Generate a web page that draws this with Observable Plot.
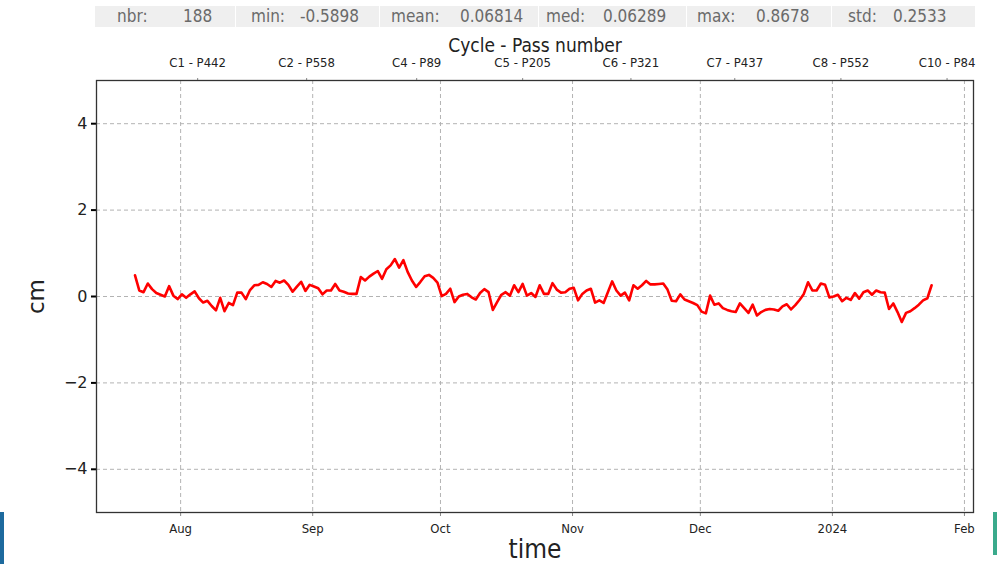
<!DOCTYPE html>
<html><head><meta charset="utf-8">
<script src="https://cdn.jsdelivr.net/npm/d3@7"></script>
<script src="https://cdn.jsdelivr.net/npm/@observablehq/plot@0.6"></script>
<style>
body{margin:0;background:#fff;width:997px;height:564px;overflow:hidden;position:relative;font-family:"DejaVu Sans",sans-serif;}
#stats{position:absolute;left:0;top:0;width:997px;height:30px;z-index:2;}
.cell{position:absolute;top:6px;height:21px;background:#efefef;}
.st{position:absolute;top:5px;font-size:17px;line-height:22px;color:#6a6a6a;font-family:"DejaVu Sans Condensed","DejaVu Sans",sans-serif;font-stretch:condensed;white-space:nowrap;}
#chart{position:absolute;left:0;top:0;z-index:1;}
.edge{position:absolute;z-index:3;}
</style>
</head><body>
<div id="chart"></div>
<div id="stats"></div>
<div class="edge" style="left:0;top:512px;width:4px;height:52px;background:#1d6a9e"></div>
<div class="edge" style="left:993px;top:512px;width:4px;height:43px;background:#3aaa8c"></div>
<script>
// ---- data ----
const startDate = "2023-07-21T07:00:00Z";
const values = [
 0.49, 0.14, 0.10, 0.30, 0.17, 0.08, 0.04, 0.00, 0.24, 0.02,
-0.06, 0.05,-0.03, 0.05, 0.12,-0.04,-0.14,-0.10,-0.22,-0.32,
-0.03,-0.34,-0.15,-0.20, 0.09, 0.09,-0.06, 0.15, 0.26, 0.27,
 0.33, 0.29, 0.22, 0.36, 0.32, 0.37, 0.27, 0.11, 0.23, 0.34,
 0.13, 0.27, 0.23, 0.19, 0.05, 0.14, 0.14, 0.29, 0.14, 0.11,
 0.07, 0.06, 0.06, 0.45, 0.37, 0.46, 0.53, 0.59, 0.41, 0.63,
 0.72, 0.8678, 0.67, 0.84, 0.57, 0.37, 0.22, 0.34, 0.47, 0.50,
 0.43, 0.32, 0.01, 0.06, 0.18,-0.13, 0.00, 0.04, 0.06,-0.02,
-0.07, 0.08, 0.17, 0.10,-0.31,-0.13, 0.04, 0.10, 0.02, 0.26,
 0.10, 0.29, 0.02, 0.08,-0.01, 0.26, 0.06, 0.06, 0.31, 0.16,
 0.09, 0.10, 0.18, 0.20,-0.09, 0.06, 0.14, 0.18,-0.14,-0.09,
-0.15, 0.10, 0.35, 0.14, 0.02, 0.09,-0.09, 0.26, 0.18, 0.26,
 0.36, 0.28, 0.28, 0.29, 0.30, 0.16,-0.10,-0.11, 0.05,-0.07,
-0.11,-0.15,-0.20,-0.35,-0.39, 0.02,-0.19,-0.16,-0.27,-0.31,
-0.34,-0.36,-0.16,-0.27,-0.38,-0.19,-0.44,-0.36,-0.31,-0.29,
-0.30,-0.33,-0.23,-0.18,-0.30,-0.20,-0.08, 0.06, 0.33, 0.14,
 0.14, 0.30, 0.27,-0.02, 0.00, 0.04,-0.11,-0.03,-0.08, 0.08,
-0.05, 0.10, 0.14, 0.04, 0.14, 0.10, 0.09,-0.29,-0.16,-0.36,
-0.5898,-0.38,-0.34,-0.27,-0.19,-0.09,-0.04, 0.26
];
const monthTicks = ["2023-08-01","2023-09-01","2023-10-01","2023-11-01","2023-12-01","2024-01-01","2024-02-01"];
const monthLabels = ["Aug","Sep","Oct","Nov","Dec","2024","Feb"];
const cycleTicks = ["2023-08-05T00:00Z","2023-08-30T14:00Z","2023-09-25T10:00Z","2023-10-20T07:00Z","2023-11-14T17:00Z","2023-12-09T02:00Z","2024-01-03T00:00Z","2024-01-27T22:00Z"];
const cycleLabels = ["C1 - P442","C2 - P558","C4 - P89","C5 - P205","C6 - P321","C7 - P437","C8 - P552","C10 - P84"];
const yTicks = [-4, -2, 0, 2, 4];
const statsLabels = ["nbr:","min:","mean:","med:","max:","std:"];
const statsValues = ["188","-0.5898","0.06814","0.06289","0.8678","0.2533"];

// ---- stats bar ----
const cells = [[95,235],[236,379],[380,538],[539,686],[687,831],[832,975]];
const labelX = [117,251,391,546,697,848];
const valueX = [183,300,460,603,756,893];
const stats = document.getElementById("stats");
cells.forEach((c,i)=>{
  const d=document.createElement("div");d.className="cell";d.style.left=c[0]+"px";d.style.width=(c[1]-c[0])+"px";stats.appendChild(d);
  const a=document.createElement("div");a.className="st";a.style.left=labelX[i]+"px";a.textContent=statsLabels[i];stats.appendChild(a);
  const b=document.createElement("div");b.className="st";b.style.left=valueX[i]+"px";b.textContent=statsValues[i];stats.appendChild(b);
});

// ---- chart ----
const t0 = new Date(startDate);
const data = values.map((v,i)=>({date: d3.utcDay.offset(t0, i), value: v}));
const mt = monthTicks.map(s=>new Date(s));
const ct = cycleTicks.map(s=>new Date(s));
const cond = "'DejaVu Sans Condensed','DejaVu Sans',sans-serif";

const chart = Plot.plot({
  width: 997, height: 564,
  marginLeft: 96, marginRight: 24, marginTop: 80, marginBottom: 52,
  style: {fontFamily: "'DejaVu Sans',sans-serif", color: "#222", background: "white"},
  x: {type: "utc", domain: [new Date("2023-07-12T06:00Z"), new Date("2024-02-03T03:00Z")]},
  y: {domain: [-5, 5]},
  marks: [
    Plot.gridX(mt, {stroke: "#b3b3b3", strokeOpacity: 1, strokeDasharray: "4,3"}),
    Plot.gridY(yTicks, {stroke: "#b3b3b3", strokeOpacity: 1, strokeDasharray: "4,3"}),
    Plot.axisY(yTicks, {tickSize: 5, strokeWidth: 2, stroke: "#000", tickPadding: 4, fontSize: 16, label: null, tickFormat: d => d < 0 ? "\u2212" + Math.abs(d) : String(d)}),
    Plot.axisX(mt, {anchor: "bottom", tickSize: 4, tickPadding: 7, fontSize: 13, stroke: "#888", label: null, fontFamily: cond, fontStretch: "condensed", tickFormat: (d,i) => monthLabels[i]}),
    Plot.axisX(ct, {anchor: "top", tickSize: 3, tickPadding: 11, fontSize: 13, stroke: "#888", label: null, fontFamily: cond, fontStretch: "condensed", tickFormat: (d,i) => cycleLabels[i]}),
    Plot.line(data, {x: "date", y: "value", stroke: "#ff0000", strokeWidth: 2.6, strokeLinejoin: "round", strokeLinecap: "round"}),
    Plot.frame({stroke: "#333", strokeWidth: 1.3}),
    Plot.text(["cm"], {frameAnchor: "left", dx: -60, rotate: -90, textAnchor: "middle", lineAnchor: "middle", fontSize: 23, fill: "#222"}),
    Plot.text(["time"], {frameAnchor: "bottom", dy: 37, lineAnchor: "middle", fontSize: 26, fill: "#222", fontFamily: cond, fontStretch: "condensed"}),
    Plot.text(["Cycle - Pass number"], {frameAnchor: "top", dy: -35, lineAnchor: "middle", fontSize: 19, fill: "#222", fontFamily: cond, fontStretch: "condensed"})
  ]
});
document.getElementById("chart").appendChild(chart);
</script>
</body></html>
